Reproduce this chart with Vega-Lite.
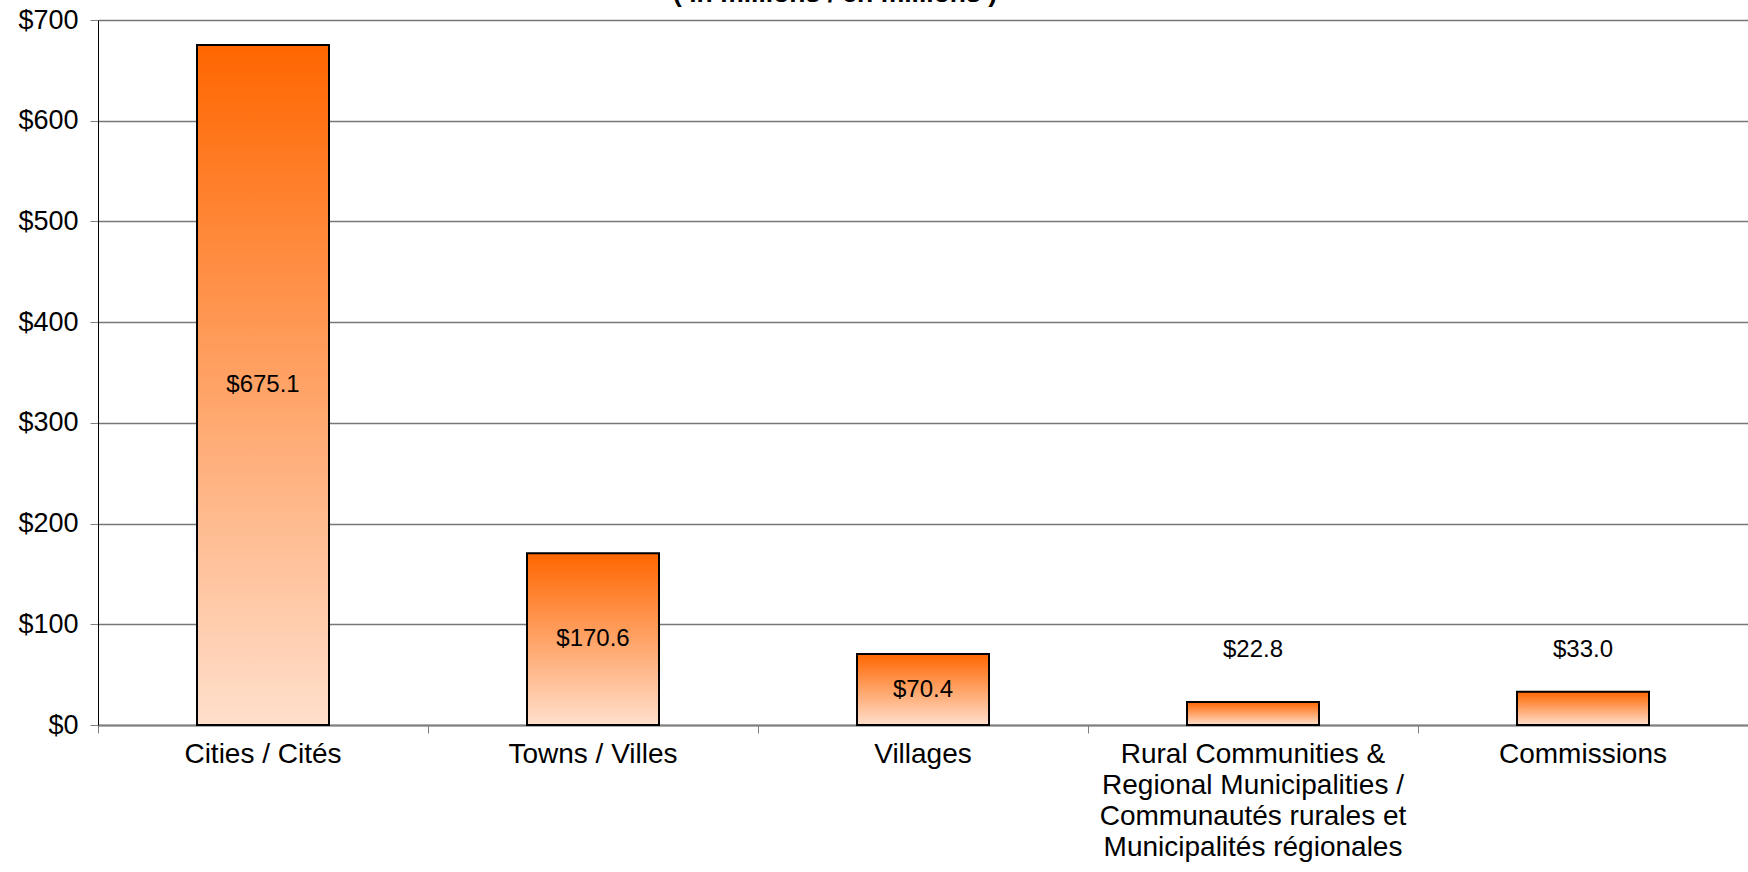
{
  "$schema": "https://vega.github.io/schema/vega-lite/v6.json",
  "autosize": {"type": "none"},
  "width": 1650,
  "height": 705,
  "padding": {"left": 98, "top": 20, "right": 0, "bottom": 147},
  "background": "white",
  "config": {"view": {"stroke": null}, "font": "Liberation Sans"},
  "title": {
    "text": "( in millions / en millions )",
    "anchor": "middle",
    "frame": "group",
    "font": "Liberation Sans",
    "fontSize": 26.5,
    "fontWeight": "bold",
    "color": "black",
    "baseline": "alphabetic",
    "offset": -22,
    "dx": -88
  },
  "data": {
    "values": [
      {"cat": "Cities / Cités", "value": 675.1},
      {"cat": "Towns / Villes", "value": 170.6},
      {"cat": "Villages", "value": 70.4},
      {"cat": "Rural Communities &|Regional Municipalities /|Communautés rurales et|Municipalités régionales", "value": 22.8},
      {"cat": "Commissions", "value": 33.0}
    ]
  },
  "encoding": {
    "x": {
      "field": "cat",
      "type": "nominal",
      "sort": null,
      "scale": {"paddingInner": 0, "paddingOuter": 0},
      "axis": {
        "title": null,
        "labelAngle": 0,
        "bandPosition": 0,
        "labelExpr": "split(datum.label, '|')",
        "labelFontSize": 28,
        "labelColor": "black",
        "labelFont": "Liberation Sans",
        "labelLineHeight": 31,
        "labelPadding": 7,
        "labelLimit": 0,
        "labelOverlap": false,
        "labelBound": false,
        "labelBaseline": "top",
        "tickSize": 8,
        "tickColor": "#808080",
        "tickWidth": 1,
        "domainColor": "#808080",
        "domainWidth": 2,
        "grid": false
      }
    }
  },
  "layer": [
    {
      "mark": {
        "type": "bar",
        "width": {"band": 0.4},
        "stroke": "black",
        "strokeWidth": 2,
        "color": {
          "gradient": "linear",
          "x1": 0, "y1": 0, "x2": 0, "y2": 1,
          "stops": [
            {"offset": 0, "color": "#FF6600"},
            {"offset": 1, "color": "#FFDFCC"}
          ]
        }
      },
      "encoding": {
        "y": {
          "field": "value",
          "type": "quantitative",
          "scale": {"domain": [0, 700], "nice": false},
          "axis": {
            "title": null,
            "values": [0, 100, 200, 300, 400, 500, 600, 700],
            "format": "$,.0f",
            "labelFontSize": 27,
            "labelColor": "black",
            "labelFont": "Liberation Sans",
            "labelPadding": 12,
            "tickSize": 8,
            "tickColor": "#808080",
            "domainColor": "black",
            "domainWidth": 1,
            "gridColor": "#777777",
            "gridWidth": 1.3,
            "gridOpacity": 1
          }
        }
      }
    },
    {
      "transform": [
        {"calculate": "datum.value >= 50 ? datum.value / 2 : 74", "as": "labelY"}
      ],
      "mark": {"type": "text", "font": "Liberation Sans", "fontSize": 24, "color": "black", "baseline": "middle", "align": "center"},
      "encoding": {
        "y": {"field": "labelY", "type": "quantitative"},
        "text": {"field": "value", "type": "quantitative", "format": "$.1f"}
      }
    }
  ]
}
